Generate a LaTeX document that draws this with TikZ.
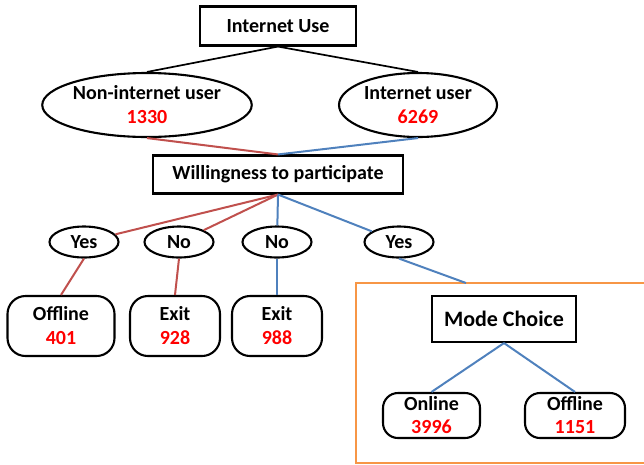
\documentclass[tikz,border=0pt]{standalone}
\usepackage{fontspec}
\setmainfont{Carlito}
\usetikzlibrary{shapes.geometric}
\definecolor{branchred}{HTML}{C0504D}
\definecolor{branchblue}{HTML}{4F81BD}
\definecolor{frameorange}{HTML}{F79646}
\definecolor{countred}{HTML}{FF0000}
\newcommand{\cnt}[1]{\textcolor{countred}{#1}}

\begin{document}
\begin{tikzpicture}[x=1pt,y=-1pt,
  every node/.style={font=\bfseries\fontsize{20}{24}\selectfont, inner sep=0pt, align=center},
  titlebox/.style={draw, rectangle, line width=2.1pt},
  oval/.style={draw, ellipse, line width=2.1pt},
  answer/.style={draw, ellipse, line width=2.1pt, minimum width=69pt, minimum height=31pt},
  leaf/.style={draw, rectangle, rounded corners=18pt, line width=2.1pt, minimum height=60pt},
  plainlink/.style={black, line width=1.7pt},
  redlink/.style={branchred, line width=2pt},
  bluelink/.style={branchblue, line width=2pt},
  framebox/.style={frameorange, line width=2.2pt}
]
\useasboundingbox (0,0) rectangle (644,464);

% first level: internet use split
\node[titlebox, minimum width=156pt, minimum height=39pt] (use) at (278,26) {Internet Use};
\node[oval, minimum width=190pt, minimum height=64pt] (non) at (147,105) {Non-internet user\\\cnt{1330}};
\node[oval, minimum width=158pt, minimum height=64pt] (inet) at (418,105) {Internet user\\\cnt{6269}};

% second level: willingness
\node[titlebox, minimum width=250pt, minimum height=38pt] (will) at (278,174.5) {Willingness to participate};

\node[answer] (y1) at (84,242) {Yes};
\node[answer] (n1) at (179,242) {No};
\node[answer] (n2) at (277,242) {No};
\node[answer] (y2) at (399,242) {Yes};

\node[leaf, minimum width=107pt] (off1) at (61,326) {Offline\\\cnt{401}};
\node[leaf, minimum width=90pt] (ex1) at (175,326) {Exit\\\cnt{928}};
\node[leaf, minimum width=90pt] (ex2) at (277,326) {Exit\\\cnt{988}};

% mode choice panel, running off the right edge
\begin{scope}
  \clip (0,0) rectangle (644,464);
  \draw[framebox] (356,283) rectangle (700,463);
\end{scope}
\coordinate (paneltop) at (466,283);

\node[titlebox, minimum width=144pt, minimum height=46pt, font=\bfseries\fontsize{22}{26}\selectfont] (mode) at (504,319) {Mode Choice};
\node[leaf, minimum width=97pt, minimum height=45pt, rounded corners=15pt] (online) at (431.5,415.5) {Online\\[-1pt]\cnt{3996}};
\node[leaf, minimum width=100pt, minimum height=45pt, rounded corners=15pt] (off2) at (575,415.5) {Offline\\[-1pt]\cnt{1151}};

% connectors
\draw[plainlink] (use.south) -- (non.north);
\draw[plainlink] (use.south) -- (inet.north);
\draw[redlink] (non.south) -- (will.north);
\draw[bluelink] (inet.south) -- (will.north);

\draw[redlink] (will.south) -- (y1);
\draw[redlink] (will.south) -- (n1);
\draw[bluelink] (will.south) -- (n2);
\draw[bluelink] (will.south) -- (y2);

\draw[redlink] (y1.south) -- (off1.north);
\draw[redlink] (n1.south) -- (ex1.north);
\draw[bluelink] (n2.south) -- (ex2.north);
\draw[bluelink] (y2.south) -- (paneltop);

\draw[bluelink] (mode.south) -- (online.north);
\draw[bluelink] (mode.south) -- (off2.north);
\end{tikzpicture}
\end{document}
